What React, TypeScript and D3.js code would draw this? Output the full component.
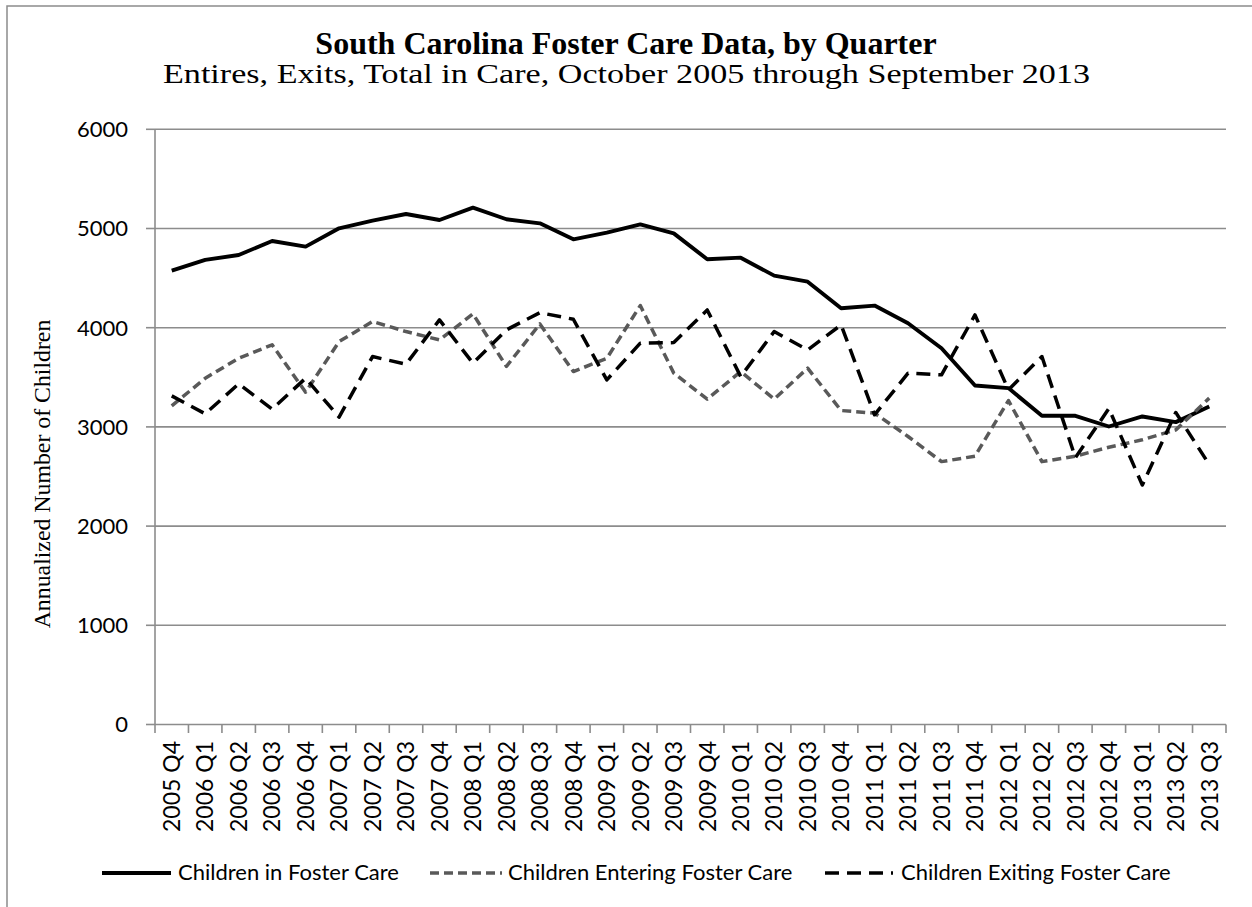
import React from "react";
import * as d3 from "d3";

const categories = [
  "2005 Q4", "2006 Q1", "2006 Q2", "2006 Q3", "2006 Q4", "2007 Q1", "2007 Q2", "2007 Q3",
  "2007 Q4", "2008 Q1", "2008 Q2", "2008 Q3", "2008 Q4", "2009 Q1", "2009 Q2", "2009 Q3",
  "2009 Q4", "2010 Q1", "2010 Q2", "2010 Q3", "2010 Q4", "2011 Q1", "2011 Q2", "2011 Q3",
  "2011 Q4", "2012 Q1", "2012 Q2", "2012 Q3", "2012 Q4", "2013 Q1", "2013 Q2", "2013 Q3",
];

const inCare = [
  4575, 4683, 4733, 4874, 4817, 5002, 5079, 5146, 5086, 5210, 5093, 5052, 4891, 4958, 5042, 4951,
  4690, 4706, 4525, 4464, 4196, 4223, 4045, 3793, 3417, 3391, 3112, 3112, 3004, 3105, 3048, 3205,
];

const entering = [
  3212, 3490, 3692, 3827, 3350, 3860, 4062, 3961, 3877, 4139, 3610, 4038, 3558, 3692, 4223, 3542,
  3280, 3558, 3280, 3592, 3165, 3139, 2903, 2650, 2705, 3265, 2650, 2705, 2795, 2870, 2970, 3290,
];

const exiting = [
  3313, 3132, 3434, 3179, 3491, 3099, 3709, 3632, 4079, 3642, 3978, 4152, 4085, 3474, 3844, 3850,
  4179, 3507, 3961, 3776, 4028, 3122, 3542, 3525, 4129, 3374, 3709, 2690, 3185, 2414, 3145, 2620,
];

const yTicks = [0, 1000, 2000, 3000, 4000, 5000, 6000];

const seriesNames = [
  "Children in Foster Care",
  "Children Entering Foster Care",
  "Children Exiting Foster Care",
];

const W = 1252;
const H = 907;
const LEFT = 155;
const RIGHT = 1226;
const Y0 = 724.5;
const Y6 = 129.3;

const GRID = "#8c8c8c";
const SANS = "Lato, 'Open Sans', sans-serif";
const SERIF = "'Liberation Serif', 'Times New Roman', serif";

const styles = [
  { stroke: "#000000", width: 3.9, dash: undefined as string | undefined },
  { stroke: "#595959", width: 3.5, dash: "9,5" },
  { stroke: "#000000", width: 3.5, dash: "14,8" },
];

export default function App() {
  const x = d3.scaleBand<string>().domain(categories).range([LEFT, RIGHT]).padding(0);
  const y = d3.scaleLinear().domain([0, 6000]).range([Y0, Y6]);
  const cx = (c: string) => (x(c) as number) + x.bandwidth() / 2;

  const line = d3
    .line<number>()
    .x((_, i) => cx(categories[i]))
    .y((d) => y(d));

  const series = [inCare, entering, exiting];

  const boundaries = categories.map((c) => x(c) as number).concat([RIGHT]);

  const legendItems = [
    { x1: 102, x2: 171, tx: 178 },
    { x1: 430, x2: 502, tx: 508 },
    { x1: 825, x2: 893, tx: 901 },
  ];

  return (
    <svg
      width={W}
      height={H}
      viewBox={`0 0 ${W} ${H}`}
      style={{ position: "absolute", left: 0, top: 0, background: "#fff" }}
    >
      <rect x={0} y={0} width={W} height={H} fill="#fff" />
      {/* outer chart frame */}
      <rect x={7} y={6} width={1400} height={1100} fill="none" stroke={GRID} strokeWidth={1.5} />

      {/* title */}
      <text
        x={626}
        y={54}
        textAnchor="middle"
        fontFamily={SERIF}
        fontWeight="bold"
        fontSize={32}
        fill="#000"
      >
        South Carolina Foster Care Data, by Quarter
      </text>
      <text
        x={163}
        y={83}
        textLength={927}
        lengthAdjust="spacingAndGlyphs"
        fontFamily={SERIF}
        fontSize={27}
        fill="#000"
      >
        Entires, Exits, Total in Care, October 2005 through September 2013
      </text>

      {/* gridlines */}
      {yTicks.slice(1).map((t) => (
        <line key={"g" + t} x1={LEFT} x2={RIGHT} y1={y(t)} y2={y(t)} stroke={GRID} strokeWidth={1.6} />
      ))}

      {/* y axis */}
      <line x1={LEFT} x2={LEFT} y1={Y6} y2={Y0} stroke={GRID} strokeWidth={1.6} />
      {yTicks.map((t) => (
        <g key={"yt" + t}>
          <line x1={LEFT - 9} x2={LEFT} y1={y(t)} y2={y(t)} stroke={GRID} strokeWidth={1.6} />
          <text
            x={128}
            y={y(t)}
            dy="0.36em"
            textAnchor="end"
            fontFamily={SANS}
            fontSize={22}
            fill="#000"
          >
            {t}
          </text>
        </g>
      ))}

      {/* x axis */}
      <line x1={LEFT} x2={RIGHT} y1={Y0} y2={Y0} stroke={GRID} strokeWidth={1.6} />
      {boundaries.map((b, i) => (
        <line key={"xt" + i} x1={b} x2={b} y1={Y0} y2={Y0 + 8.5} stroke={GRID} strokeWidth={1.6} />
      ))}
      {categories.map((c) => (
        <text
          key={"xl" + c}
          transform={`translate(${cx(c)},741) rotate(-90)`}
          dy="0.36em"
          textAnchor="end"
          fontFamily={SANS}
          fontSize={23}
          fill="#000"
        >
          {c}
        </text>
      ))}

      {/* y axis title */}
      <text
        transform="translate(42,474) rotate(-90)"
        dy="0.33em"
        textAnchor="middle"
        fontFamily={SERIF}
        fontSize={23.8}
        fill="#000"
      >
        Annualized Number of Children
      </text>

      {/* series */}
      {series.map((s, i) => (
        <path
          key={"s" + i}
          d={line(s) || ""}
          fill="none"
          stroke={styles[i].stroke}
          strokeWidth={styles[i].width}
          strokeDasharray={styles[i].dash}
          strokeLinejoin="round"
        />
      ))}

      {/* legend */}
      {legendItems.map((l, i) => (
        <g key={"lg" + i}>
          <line
            x1={l.x1}
            x2={l.x2}
            y1={873}
            y2={873}
            stroke={styles[i].stroke}
            strokeWidth={styles[i].width}
            strokeDasharray={styles[i].dash}
          />
          <text x={l.tx} y={880} fontFamily={SANS} fontSize={22} fill="#000">
            {seriesNames[i]}
          </text>
        </g>
      ))}
    </svg>
  );
}
